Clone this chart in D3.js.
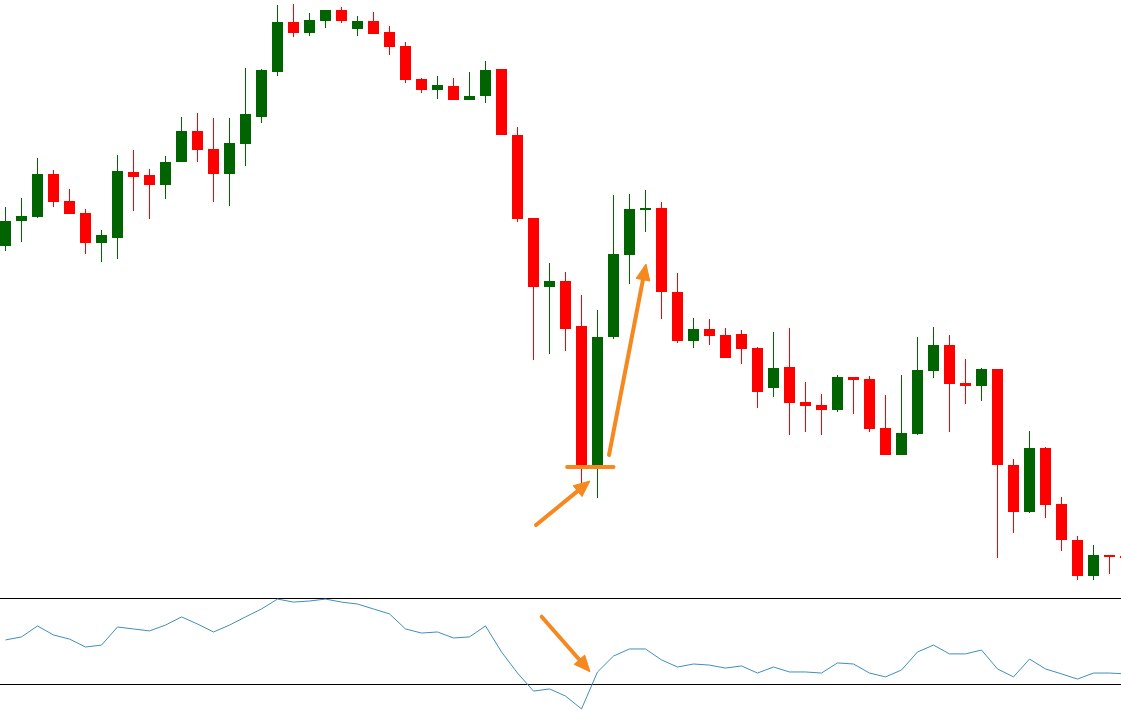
<!DOCTYPE html>
<html>
<head>
<meta charset="utf-8">
<script src="https://cdn.jsdelivr.net/npm/d3@7/dist/d3.min.js"></script>
<style>
  html, body { margin: 0; padding: 0; background: #fff; overflow: hidden; }
</style>
</head>
<body>
<div id="chart"></div>
<script>
'use strict';

// price data (points), one entry per bar
const opens = [354, 379, 383, 426, 399, 387, 357, 362, 428, 425, 415, 438, 469, 451, 426, 456, 483, 528, 578, 567,
  579, 590, 571, 579, 568, 554, 521, 510, 514, 500, 504, 531, 465, 382, 313, 319, 274, 134, 263, 345,
  390, 392, 308, 259, 271, 265, 266, 252, 212, 233, 198, 195, 190, 223, 221, 172, 145, 166, 229, 255,
  217, 214, 231, 135, 88, 152, 96, 60, 24, 45, 44];
const highs = [393, 402, 442, 430, 411, 391, 370, 445, 450, 431, 444, 483, 487, 482, 482, 532, 531, 595, 596, 587,
  590, 593, 584, 588, 574, 558, 522, 524, 522, 528, 539, 531, 473, 382, 337, 328, 305, 290, 405, 406,
  410, 398, 327, 282, 281, 272, 270, 253, 268, 272, 218, 206, 225, 223, 224, 205, 225, 263, 273, 265,
  241, 232, 231, 141, 169, 153, 103, 64, 55, 45, 47];
const lows = [349, 358, 382, 393, 386, 346, 338, 341, 389, 381, 401, 438, 438, 398, 394, 434, 477, 524, 563, 564,
  572, 577, 564, 566, 545, 517, 507, 501, 500, 500, 497, 465, 378, 240, 246, 249, 117, 102, 261, 316,
  368, 281, 257, 252, 255, 242, 236, 192, 203, 165, 168, 165, 188, 186, 168, 145, 145, 165, 222, 168,
  196, 199, 42, 67, 87, 82, 49, 20, 20, 26, 40];
const closes = [379, 384, 426, 398, 386, 357, 365, 429, 423, 415, 438, 469, 450, 426, 457, 486, 530, 578, 567, 580,
  590, 579, 579, 566, 553, 520, 510, 515, 500, 504, 530, 465, 381, 313, 319, 271, 134, 263, 346, 391,
  392, 308, 259, 271, 264, 242, 251, 208, 232, 197, 194, 190, 223, 220, 171, 145, 167, 230, 255, 216,
  214, 231, 135, 88, 152, 95, 60, 24, 45, 44, 42];

// oscillator values under the chart
const oscValues = [50.5, 51.9, 57.0, 52.8, 50.9, 47.2, 48.1, 56.5, 55.6, 54.7, 57.4, 61.2, 57.9, 54.2, 57.4, 61.2, 64.9, 69.5, 68.1, 68.6,
  69.5, 68.1, 67.2, 64.9, 62.6, 55.6, 53.7, 54.2, 51.4, 51.9, 57.0, 44.9, 35.1, 26.7, 27.7, 24.4, 18.4, 35.6, 43.0, 46.3,
  46.3, 41.2, 37.9, 39.3, 38.8, 37.4, 38.4, 35.1, 37.9, 35.6, 35.6, 35.1, 39.8, 39.3, 35.1, 33.3, 36.5, 44.9, 48.1, 44.0,
  44.0, 45.8, 37.0, 33.3, 41.6, 37.0, 34.7, 32.3, 35.1, 35.1, 34.7];
const oscLevels = [70, 30];

// orange marks: [bar index, price] pairs
const supportLine = [[35.1, 133], [38.0, 133]];
const priceArrows = [
  [[33.16, 75], [36.53, 119]],
  [[37.72, 145], [40.03, 336]],
];
const oscArrow = [[33.51, 61.3], [36.53, 35.7]];

const width = 1121;
const height = 721;
const barStep = 16;
const bodyWidth = 11;
const upColor = '#006400';
const downColor = '#ff0000';
const orange = '#f5891f';

const bars = opens.map((o, i) => ({
  i,
  open: o,
  high: highs[i],
  low: lows[i],
  close: closes[i],
}));

const x = d3.scaleLinear()
  .domain([0, 1])
  .range([5.5, 5.5 + barStep]);

const y = d3.scaleLinear()
  .domain([0, 600])
  .range([600, 0]);

const yOsc = d3.scaleLinear()
  .domain([30, 70])
  .range([684, 598]);

const svg = d3.select('#chart')
  .append('svg')
  .attr('width', width)
  .attr('height', height)
  .style('display', 'block');

const candles = svg.append('g')
  .selectAll('g')
  .data(bars)
  .join('g')
  .attr('fill', (d) => d.close >= d.open ? upColor : downColor)
  .attr('stroke', (d) => d.close >= d.open ? upColor : downColor);

candles.append('line')
  .attr('x1', (d) => Math.floor(x(d.i)) + 0.5)
  .attr('x2', (d) => Math.floor(x(d.i)) + 0.5)
  .attr('y1', (d) => y(d.high))
  .attr('y2', (d) => y(d.low))
  .attr('stroke-width', 1);

candles.append('rect')
  .attr('x', (d) => x(d.i) - bodyWidth / 2)
  .attr('y', (d) => y(Math.max(d.open, d.close)))
  .attr('width', bodyWidth)
  .attr('height', (d) => Math.max(2, Math.abs(y(d.open) - y(d.close))))
  .attr('stroke', 'none');

// oscillator panel
svg.append('g')
  .selectAll('line')
  .data(oscLevels)
  .join('line')
  .attr('x1', 0)
  .attr('x2', width)
  .attr('y1', (d) => Math.round(yOsc(d)) + 0.5)
  .attr('y2', (d) => Math.round(yOsc(d)) + 0.5)
  .attr('stroke', '#000')
  .attr('stroke-width', 1);

const oscLine = d3.line()
  .x((d, i) => x(i))
  .y((d) => yOsc(d));

svg.append('path')
  .datum(oscValues)
  .attr('d', oscLine)
  .attr('fill', 'none')
  .attr('stroke', '#3f8fbd')
  .attr('stroke-width', 1);

// annotations
const drawArrow = (p0, p1) => {
  const dx = p1[0] - p0[0];
  const dy = p1[1] - p0[1];
  const len = Math.hypot(dx, dy);
  const ux = dx / len;
  const uy = dy / len;
  const headLen = 16;
  const headHalf = 7;
  const bx = p1[0] - ux * headLen;
  const by = p1[1] - uy * headLen;
  svg.append('line')
    .attr('x1', p0[0])
    .attr('y1', p0[1])
    .attr('x2', bx + ux * 2)
    .attr('y2', by + uy * 2)
    .attr('stroke', orange)
    .attr('stroke-width', 4)
    .attr('stroke-linecap', 'round');
  svg.append('path')
    .attr('d', `M${p1[0]},${p1[1]}L${bx - uy * headHalf},${by + ux * headHalf}L${bx + uy * headHalf},${by - ux * headHalf}Z`)
    .attr('fill', orange)
    .attr('stroke', orange)
    .attr('stroke-width', 1)
    .attr('stroke-linejoin', 'round');
};

svg.append('line')
  .attr('x1', x(supportLine[0][0]))
  .attr('y1', y(supportLine[0][1]))
  .attr('x2', x(supportLine[1][0]))
  .attr('y2', y(supportLine[1][1]))
  .attr('stroke', orange)
  .attr('stroke-width', 4)
  .attr('stroke-linecap', 'round');

priceArrows.forEach(([a, b]) => {
  drawArrow([x(a[0]), y(a[1])], [x(b[0]), y(b[1])]);
});

drawArrow([x(oscArrow[0][0]), yOsc(oscArrow[0][1])], [x(oscArrow[1][0]), yOsc(oscArrow[1][1])]);
</script>
</body>
</html>
